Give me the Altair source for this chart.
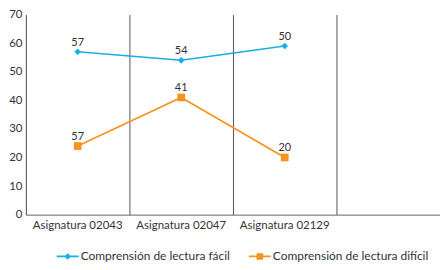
import altair as alt
import pandas as pd

categories = ["Asignatura 02043", "Asignatura 02047", "Asignatura 02129"]
x_domain = categories + [" "]
series = ["Comprensión de lectura fácil", "Comprensión de lectura difícil"]
facil_values = [57, 54, 59]
facil_labels = ["57", "54", "50"]
dificil_values = [24, 41, 20]
dificil_labels = ["57", "41", "20"]
colors = ["#16ade8", "#f7931e"]
y_ticks = [0, 10, 20, 30, 40, 50, 60, 70]

rows = []
for c, v, l in zip(categories, facil_values, facil_labels):
    rows.append({"cat": c, "val": v, "lab": l, "serie": series[0]})
for c, v, l in zip(categories, dificil_values, dificil_labels):
    rows.append({"cat": c, "val": v, "lab": l, "serie": series[1]})
df = pd.DataFrame(rows)

FONT = "'Liberation Sans Narrow', 'Arial Narrow', Lato, sans-serif"
xscale = alt.Scale(type="band", domain=x_domain, paddingInner=0, paddingOuter=0)
yscale = alt.Scale(domain=[0, 70])
cscale = alt.Scale(domain=series, range=colors)

diamond_leg = "M-1,-0.08L1,-0.08L1,0.08L-1,0.08Z M0,-0.3L0.3,0L0,0.3L-0.3,0Z"
square_leg = "M-1,-0.08L1,-0.08L1,0.08L-1,0.08Z M-0.3,-0.3L0.3,-0.3L0.3,0.3L-0.3,0.3Z"

leg = alt.Legend(title=None, orient="none", direction="horizontal", legendX=31, legendY=232)

base = alt.Chart(df)

legend_layer = base.transform_filter("datum.val < 0").mark_point(filled=True, opacity=1).encode(
    color=alt.Color("serie:N", scale=cscale, legend=leg),
    shape=alt.Shape("serie:N", scale=alt.Scale(domain=series, range=[diamond_leg, square_leg]),
                    legend=leg),
)

lines = base.mark_line(strokeWidth=1.6).encode(
    x=alt.X("cat:N", scale=xscale, sort=x_domain,
            axis=alt.Axis(title=None, labelAngle=0, ticks=False, grid=False,
                          domainColor="#666", labelColor="#333", labelFontSize=11.5,
                          labelFont=FONT, labelPadding=5)),
    y=alt.Y("val:Q", scale=yscale,
            axis=alt.Axis(title=None, values=y_ticks, ticks=False, grid=False,
                          domainColor="#666", labelColor="#333", labelFontSize=11.5,
                          labelFont=FONT, labelPadding=4)),
    color=alt.Color("serie:N", scale=cscale, legend=leg),
    detail="serie:N",
)

pts_a = base.transform_filter(alt.datum.serie == series[0]).mark_point(
    shape="diamond", filled=True, size=45, opacity=1
).encode(
    x=alt.X("cat:N", scale=xscale, sort=x_domain,
            axis=alt.Axis(orient="top", title=None, labels=False, ticks=False,
                          domain=False, grid=True, bandPosition=0,
                          gridColor="#555", gridOpacity=1, gridWidth=1)),
    y=alt.Y("val:Q", scale=yscale,
            axis=alt.Axis(orient="right", title=None, labels=False, ticks=False,
                          grid=False, domainColor="#555")),
    color=alt.Color("serie:N", scale=cscale, legend=leg),
)

pts_b = base.transform_filter(alt.datum.serie == series[1]).mark_square(
    size=60, opacity=1
).encode(
    x=alt.X("cat:N", scale=xscale, sort=x_domain, axis=None),
    y=alt.Y("val:Q", scale=yscale, axis=None),
    color=alt.Color("serie:N", scale=cscale, legend=leg),
)

labels = base.mark_text(dy=-9, fontSize=11, font=FONT, color="#333").encode(
    x=alt.X("cat:N", scale=xscale, sort=x_domain, axis=None),
    y=alt.Y("val:Q", scale=yscale, axis=None),
    text="lab:N",
)

chart = alt.layer(legend_layer, lines, pts_a, pts_b, labels).resolve_axis(
    x="independent", y="independent"
).properties(
    width=416, height=201,
    padding=0,
).configure_view(stroke=None).configure_legend(
    symbolSize=484, symbolStrokeWidth=0, labelFont=FONT, labelFontSize=12,
    labelColor="#333", columnPadding=18, labelOffset=2,
)

chart.save("out.html", embed_options={"renderer": "svg", "actions": False})
